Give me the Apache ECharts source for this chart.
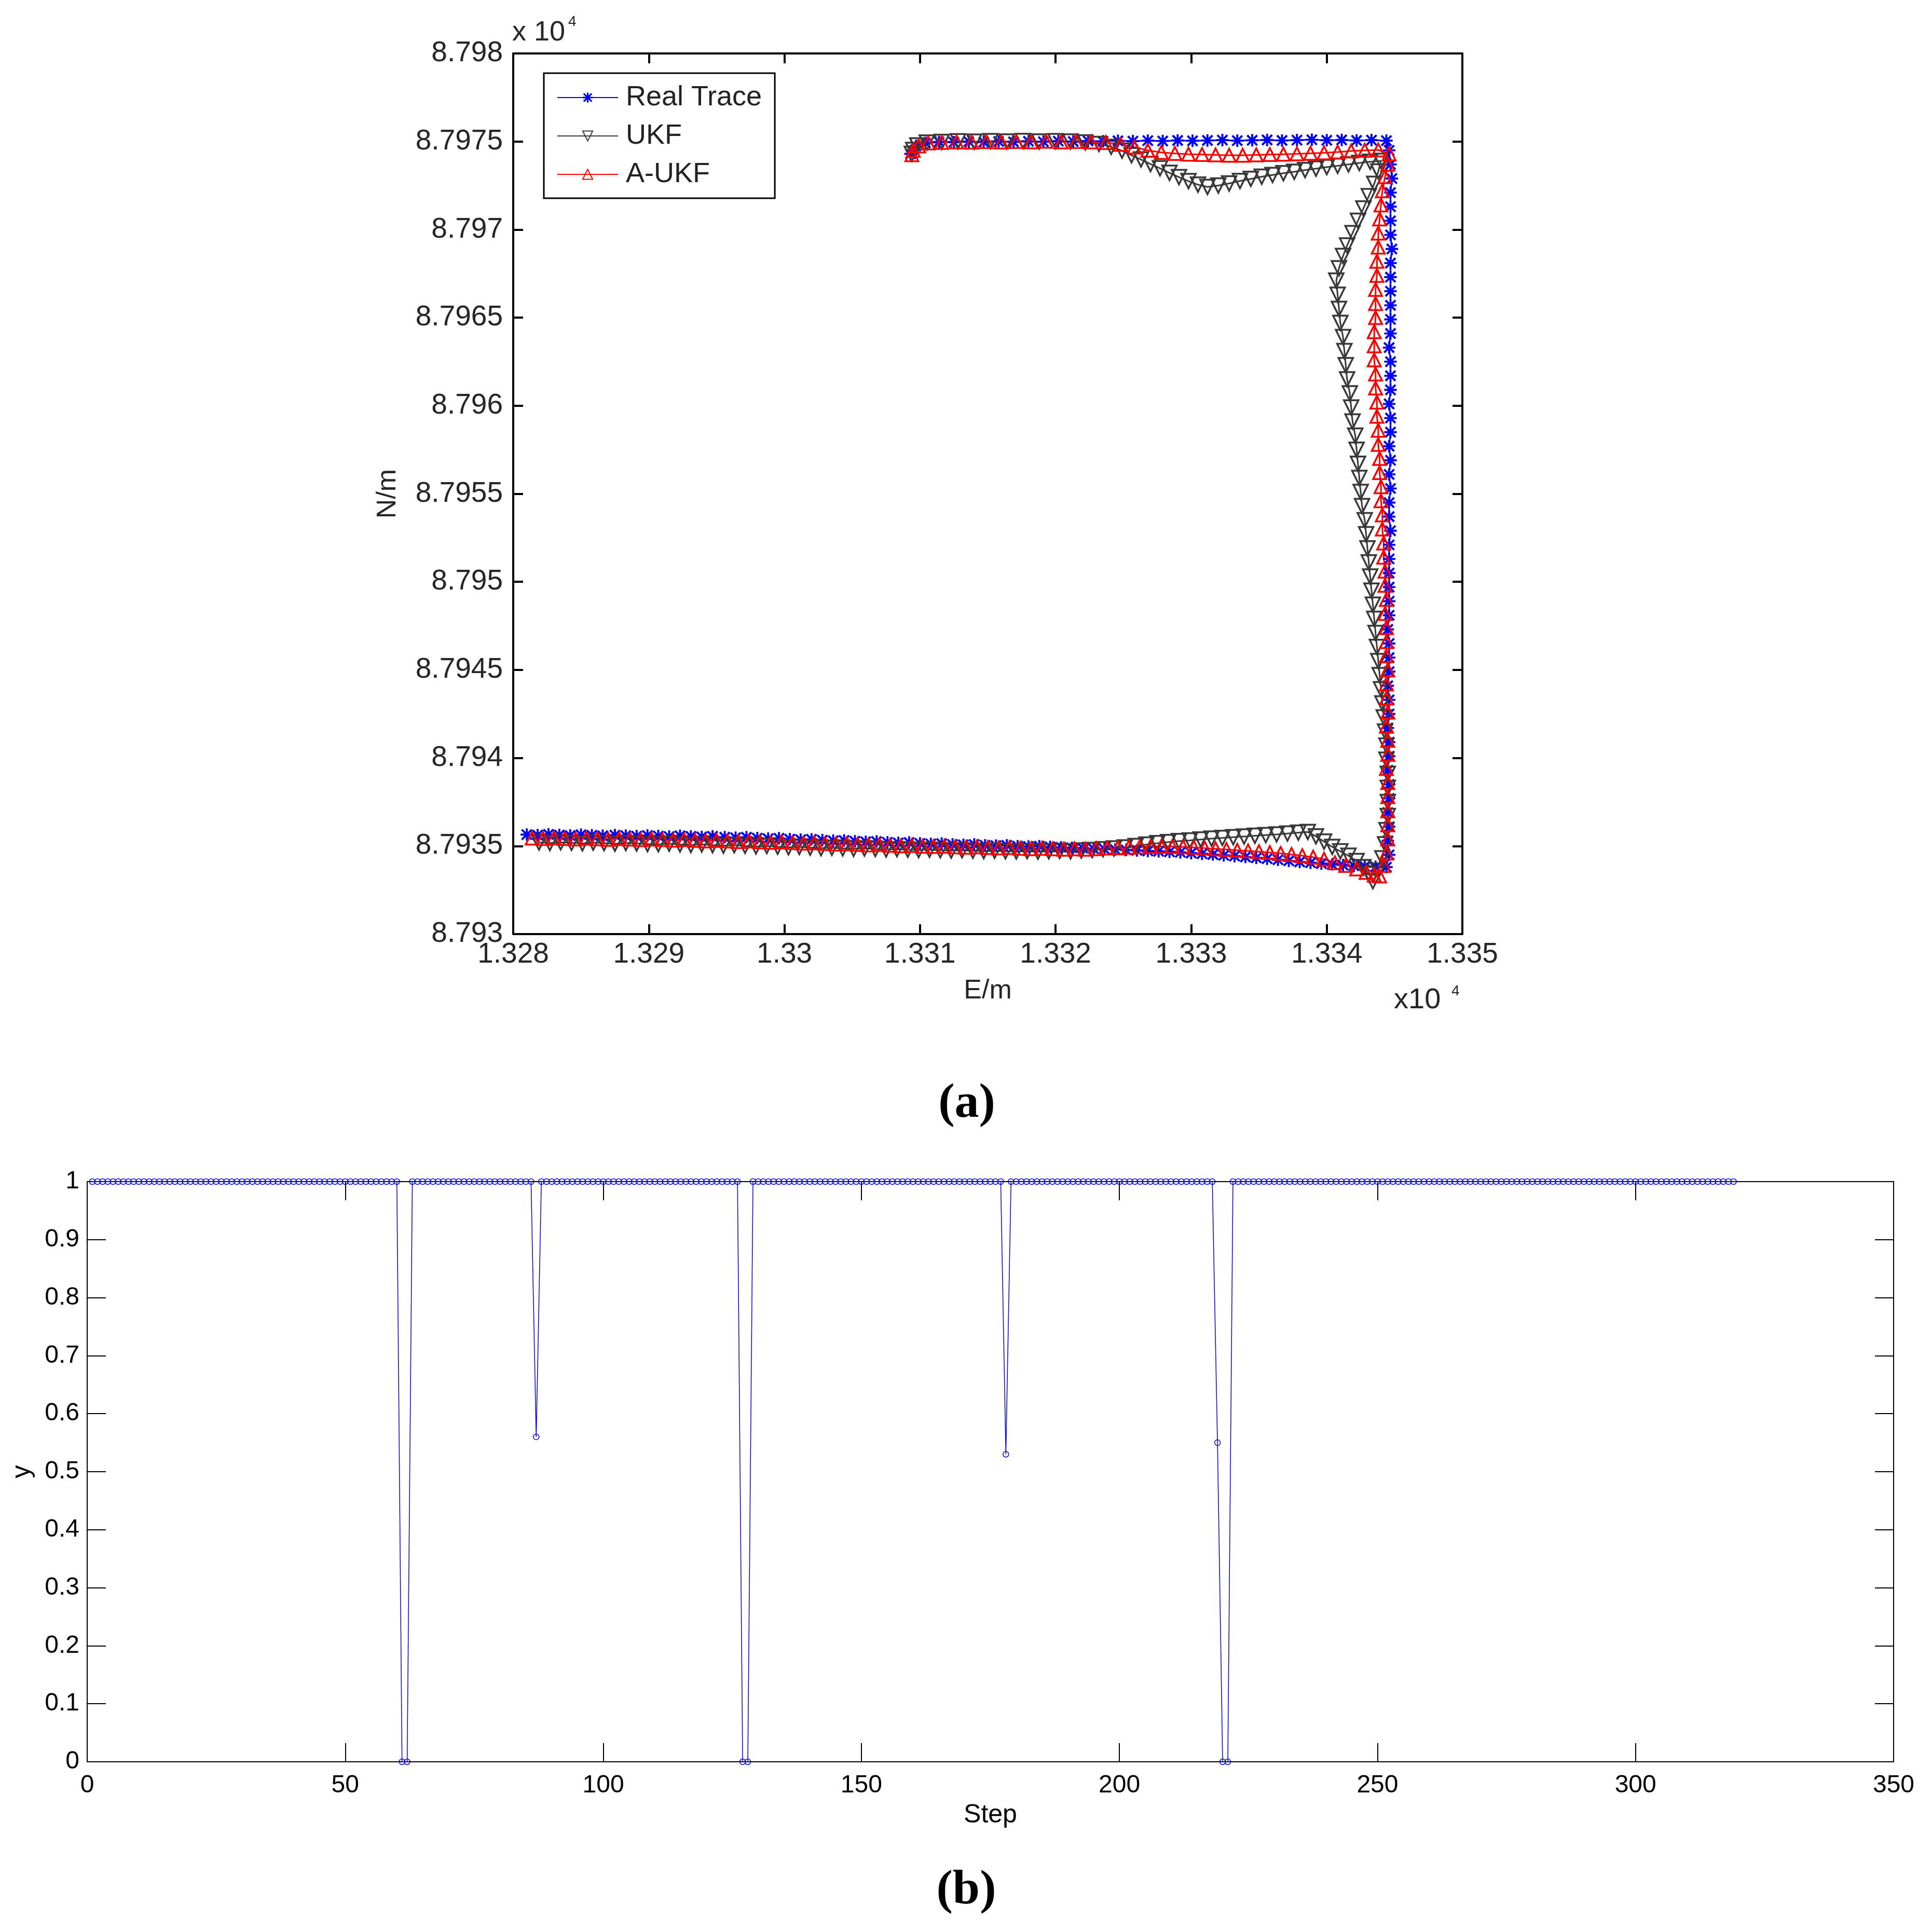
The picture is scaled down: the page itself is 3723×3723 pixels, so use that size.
<!DOCTYPE html>
<html>
<head>
<meta charset="utf-8">
<title>Trace comparison and switching factor</title>
<script src="https://cdn.jsdelivr.net/npm/echarts@6.0.0/dist/echarts.min.js"></script>
<style>
  html, body { margin: 0; padding: 0; background: #fff; }
  #chart { width: 3723px; height: 3723px; }
</style>
</head>
<body>
<div id="chart"></div>
<script>
// (a) positions in metres, [E, N]
const realTrace = [
  [13281.0, 87935.65], [13281.8, 87935.62], [13282.6, 87935.66], [13283.4, 87935.63], [13284.2, 87935.60],
  [13285.0, 87935.64], [13285.8, 87935.61], [13286.6, 87935.58], [13287.5, 87935.62], [13288.3, 87935.59],
  [13289.1, 87935.56], [13289.9, 87935.60], [13290.7, 87935.57], [13291.5, 87935.54], [13292.3, 87935.58],
  [13293.1, 87935.55], [13293.9, 87935.52], [13294.7, 87935.55], [13295.6, 87935.50], [13296.4, 87935.47],
  [13297.2, 87935.50], [13298.0, 87935.45], [13298.8, 87935.42], [13299.6, 87935.44], [13300.4, 87935.39],
  [13301.2, 87935.36], [13302.0, 87935.38], [13302.8, 87935.33], [13303.6, 87935.30], [13304.4, 87935.32],
  [13305.2, 87935.27], [13306.0, 87935.24], [13306.8, 87935.26], [13307.6, 87935.21], [13308.4, 87935.18],
  [13309.2, 87935.20], [13310.0, 87935.15], [13310.8, 87935.12], [13311.6, 87935.14], [13312.4, 87935.09],
  [13313.2, 87935.07], [13314.0, 87935.09], [13314.8, 87935.04], [13315.6, 87935.02], [13316.4, 87935.04],
  [13317.2, 87934.99], [13318.0, 87934.97], [13318.8, 87934.99], [13319.6, 87934.95], [13320.4, 87934.93],
  [13321.2, 87934.90], [13322.0, 87934.88], [13322.8, 87934.85], [13323.6, 87934.83], [13324.4, 87934.80],
  [13325.2, 87934.78], [13326.0, 87934.75], [13326.8, 87934.72], [13327.6, 87934.70], [13328.4, 87934.67],
  [13329.2, 87934.64], [13330.0, 87934.60], [13330.8, 87934.56], [13331.6, 87934.52], [13332.4, 87934.47],
  [13333.2, 87934.43], [13334.0, 87934.38], [13334.8, 87934.33], [13335.6, 87934.28], [13336.4, 87934.22],
  [13337.2, 87934.16], [13338.0, 87934.10], [13338.8, 87934.05], [13339.6, 87934.00], [13340.4, 87933.96],
  [13341.2, 87933.92], [13342.0, 87933.88], [13342.8, 87933.85], [13343.6, 87933.82], [13344.4, 87933.80],
  [13344.6, 87934.5], [13344.5, 87935.3], [13344.6, 87936.1], [13344.5, 87936.9], [13344.6, 87937.7],
  [13344.6, 87938.5], [13344.5, 87939.3], [13344.6, 87940.1], [13344.6, 87940.9], [13344.5, 87941.7],
  [13344.6, 87942.5], [13344.6, 87943.3], [13344.5, 87944.1], [13344.6, 87944.9], [13344.6, 87945.7],
  [13344.6, 87946.5], [13344.5, 87947.3], [13344.6, 87948.1], [13344.6, 87948.9], [13344.6, 87949.7],
  [13344.6, 87950.5], [13344.6, 87951.3], [13344.6, 87952.1], [13344.7, 87952.9], [13344.6, 87953.7],
  [13344.6, 87954.5], [13344.7, 87955.3], [13344.6, 87956.1], [13344.7, 87956.9], [13344.6, 87957.7],
  [13344.7, 87958.5], [13344.7, 87959.3], [13344.6, 87960.1], [13344.7, 87960.9], [13344.7, 87961.7],
  [13344.7, 87962.5], [13344.6, 87963.3], [13344.7, 87964.1], [13344.7, 87964.9], [13344.7, 87965.7],
  [13344.7, 87966.5], [13344.7, 87967.3], [13344.7, 87968.1], [13344.8, 87968.9], [13344.7, 87969.7],
  [13344.7, 87970.5], [13344.7, 87971.3], [13344.7, 87972.1], [13344.8, 87972.9], [13344.7, 87973.7],
  [13344.6, 87974.5], [13344.4, 87975.05],
  [13343.3, 87975.08], [13342.2, 87975.06], [13341.1, 87975.09], [13340.0, 87975.07], [13338.9, 87975.10],
  [13337.8, 87975.08], [13336.7, 87975.06], [13335.6, 87975.09], [13334.5, 87975.07], [13333.4, 87975.05],
  [13332.3, 87975.08], [13331.2, 87975.06], [13330.1, 87975.04], [13329.0, 87975.06], [13327.9, 87975.03],
  [13326.8, 87975.05], [13325.7, 87975.02], [13324.6, 87975.04], [13323.5, 87975.01], [13322.4, 87975.03],
  [13321.3, 87975.00], [13320.2, 87975.02], [13319.1, 87974.99], [13318.0, 87975.01], [13316.9, 87974.98],
  [13315.8, 87975.00], [13314.7, 87974.97], [13313.6, 87974.99], [13312.5, 87974.96], [13311.4, 87974.98],
  [13310.4, 87974.92], [13309.7, 87974.75], [13309.4, 87974.50], [13309.3, 87974.30]
];

const ukfTrace = [
  [13281.9, 87935.20], [13282.7, 87935.17], [13283.5, 87935.21], [13284.3, 87935.18], [13285.1, 87935.15],
  [13285.9, 87935.19], [13286.7, 87935.16], [13287.5, 87935.13], [13288.3, 87935.17], [13289.1, 87935.14],
  [13289.9, 87935.11], [13290.7, 87935.10], [13291.5, 87935.13], [13292.3, 87935.09], [13293.1, 87935.06],
  [13293.9, 87935.09], [13294.7, 87935.05], [13295.5, 87935.02], [13296.3, 87935.05], [13297.1, 87935.01],
  [13297.9, 87934.98], [13298.7, 87935.00], [13299.5, 87934.96], [13300.3, 87934.93], [13301.1, 87934.95],
  [13301.9, 87934.91], [13302.7, 87934.88], [13303.5, 87934.90], [13304.3, 87934.87], [13305.1, 87934.84],
  [13305.9, 87934.86], [13306.7, 87934.83], [13307.5, 87934.80], [13308.3, 87934.82], [13309.1, 87934.79],
  [13309.9, 87934.77], [13310.7, 87934.79], [13311.5, 87934.76], [13312.3, 87934.74], [13313.1, 87934.76],
  [13313.9, 87934.73], [13314.7, 87934.71], [13315.5, 87934.73], [13316.3, 87934.70], [13317.1, 87934.69],
  [13317.9, 87934.71], [13318.7, 87934.68], [13319.5, 87934.70], [13320.3, 87934.72], [13321.1, 87934.70],
  [13321.9, 87934.74], [13322.7, 87934.77], [13323.5, 87934.82], [13324.3, 87934.86], [13325.1, 87934.92],
  [13325.9, 87935.00], [13326.7, 87935.08], [13327.5, 87935.16], [13328.3, 87935.22], [13329.1, 87935.28],
  [13329.9, 87935.32], [13330.7, 87935.37], [13331.5, 87935.42], [13332.3, 87935.46], [13333.1, 87935.50],
  [13333.9, 87935.54], [13334.7, 87935.58], [13335.5, 87935.62], [13336.3, 87935.66], [13337.1, 87935.71],
  [13337.9, 87935.76], [13338.6, 87935.80], [13339.2, 87935.55], [13339.8, 87935.25], [13340.4, 87934.95],
  [13341.0, 87934.70], [13341.6, 87934.45], [13342.2, 87934.15], [13342.7, 87933.80], [13343.1, 87933.40],
  [13343.4, 87933.00],
  [13343.8, 87933.6], [13344.1, 87934.3], [13344.3, 87935.1], [13344.4, 87935.9], [13344.5, 87936.7],
  [13344.5, 87937.5], [13344.5, 87938.3], [13344.5, 87939.1], [13344.4, 87939.9], [13344.4, 87940.7],
  [13344.3, 87941.5], [13344.2, 87942.3], [13344.1, 87943.1], [13344.0, 87943.9], [13343.9, 87944.7],
  [13343.8, 87945.5], [13343.7, 87946.3], [13343.6, 87947.1], [13343.5, 87947.9], [13343.4, 87948.7],
  [13343.3, 87949.5], [13343.2, 87950.3], [13343.1, 87951.1], [13343.0, 87951.9], [13342.9, 87952.7],
  [13342.8, 87953.5], [13342.6, 87954.3], [13342.5, 87955.1], [13342.4, 87955.9], [13342.3, 87956.7],
  [13342.2, 87957.5], [13342.1, 87958.3], [13341.9, 87959.1], [13341.8, 87959.9], [13341.7, 87960.7],
  [13341.5, 87961.5], [13341.4, 87962.3], [13341.3, 87963.1], [13341.2, 87963.9], [13341.0, 87964.7],
  [13340.9, 87965.5], [13340.8, 87966.3], [13340.7, 87967.1], [13340.9, 87967.8], [13341.2, 87968.5],
  [13341.5, 87969.1], [13341.9, 87969.8], [13342.3, 87970.5], [13342.7, 87971.2], [13343.1, 87971.9],
  [13343.5, 87972.6], [13343.8, 87973.3], [13344.0, 87973.9],
  [13343.2, 87973.85], [13342.4, 87973.78], [13341.6, 87973.70], [13340.8, 87973.62], [13340.0, 87973.55],
  [13339.2, 87973.46], [13338.4, 87973.38], [13337.6, 87973.28], [13336.8, 87973.20], [13336.0, 87973.10],
  [13335.2, 87973.00], [13334.4, 87972.88], [13333.6, 87972.76], [13332.8, 87972.62], [13332.0, 87972.50],
  [13331.2, 87972.42], [13330.5, 87972.55], [13329.8, 87972.75], [13329.1, 87972.98], [13328.4, 87973.22],
  [13327.7, 87973.48], [13327.0, 87973.72], [13326.3, 87973.98], [13325.6, 87974.22], [13324.9, 87974.48],
  [13324.1, 87974.70], [13323.2, 87974.86], [13322.2, 87974.95], [13321.1, 87975.00], [13320.0, 87975.02],
  [13318.8, 87975.00], [13317.6, 87975.03], [13316.4, 87975.00], [13315.2, 87975.02], [13314.0, 87974.99],
  [13312.8, 87975.01], [13311.6, 87974.98], [13310.5, 87974.94], [13309.8, 87974.78], [13309.5, 87974.52],
  [13309.4, 87974.30]
];

const aukfTrace = [
  [13281.4, 87935.45], [13282.2, 87935.42], [13283.0, 87935.46], [13283.8, 87935.43], [13284.6, 87935.40],
  [13285.4, 87935.44], [13286.2, 87935.41], [13287.0, 87935.38], [13287.8, 87935.42], [13288.6, 87935.39],
  [13289.4, 87935.36], [13290.2, 87935.39], [13291.0, 87935.36], [13291.8, 87935.33], [13292.6, 87935.36],
  [13293.4, 87935.32], [13294.2, 87935.29], [13295.0, 87935.32], [13295.8, 87935.28], [13296.6, 87935.25],
  [13297.4, 87935.28], [13298.2, 87935.24], [13299.0, 87935.21], [13299.8, 87935.23], [13300.6, 87935.19],
  [13301.4, 87935.16], [13302.2, 87935.18], [13303.0, 87935.14], [13303.8, 87935.11], [13304.6, 87935.13],
  [13305.4, 87935.09], [13306.2, 87935.06], [13307.0, 87935.08], [13307.8, 87935.04], [13308.6, 87935.01],
  [13309.4, 87935.03], [13310.2, 87934.99], [13311.0, 87934.97], [13311.8, 87934.99], [13312.6, 87934.95],
  [13313.4, 87934.93], [13314.2, 87934.95], [13315.0, 87934.91], [13315.8, 87934.89], [13316.6, 87934.91],
  [13317.4, 87934.87], [13318.2, 87934.85], [13319.0, 87934.87], [13319.8, 87934.84], [13320.6, 87934.82],
  [13321.4, 87934.84], [13322.2, 87934.82], [13323.0, 87934.85], [13323.8, 87934.88], [13324.6, 87934.90],
  [13325.4, 87934.93], [13326.2, 87934.95], [13327.0, 87934.97], [13327.8, 87934.98], [13328.6, 87934.97],
  [13329.4, 87934.95], [13330.2, 87934.92], [13331.0, 87934.88], [13331.8, 87934.84], [13332.6, 87934.80],
  [13333.4, 87934.76], [13334.2, 87934.72], [13335.0, 87934.68], [13335.8, 87934.63], [13336.6, 87934.58],
  [13337.4, 87934.52], [13338.2, 87934.45], [13339.0, 87934.37], [13339.8, 87934.25], [13340.6, 87934.05],
  [13341.4, 87933.90], [13342.2, 87933.70], [13342.9, 87933.50], [13343.5, 87933.35], [13343.9, 87933.30],
  [13344.2, 87933.9], [13344.4, 87934.6], [13344.5, 87935.4], [13344.5, 87936.2], [13344.5, 87937.0],
  [13344.5, 87937.8], [13344.5, 87938.6], [13344.4, 87939.4], [13344.5, 87940.2], [13344.5, 87941.0],
  [13344.4, 87941.8], [13344.5, 87942.6], [13344.4, 87943.4], [13344.4, 87944.2], [13344.5, 87945.0],
  [13344.4, 87945.8], [13344.4, 87946.6], [13344.4, 87947.4], [13344.3, 87948.2], [13344.4, 87949.0],
  [13344.3, 87949.8], [13344.3, 87950.6], [13344.2, 87951.4], [13344.2, 87952.2], [13344.1, 87953.0],
  [13344.1, 87953.8], [13344.0, 87954.6], [13344.0, 87955.4], [13343.9, 87956.2], [13343.9, 87957.0],
  [13343.8, 87957.8], [13343.8, 87958.6], [13343.7, 87959.4], [13343.7, 87960.2], [13343.6, 87961.0],
  [13343.6, 87961.8], [13343.5, 87962.6], [13343.5, 87963.4], [13343.5, 87964.2], [13343.6, 87965.0],
  [13343.6, 87965.8], [13343.6, 87966.6], [13343.7, 87967.4], [13343.7, 87968.2], [13343.8, 87969.0],
  [13343.8, 87969.8], [13343.9, 87970.6], [13344.0, 87971.4], [13344.1, 87972.2], [13344.3, 87973.0],
  [13344.5, 87973.7], [13344.6, 87974.3],
  [13343.8, 87974.52], [13342.8, 87974.50], [13341.8, 87974.46], [13340.8, 87974.40], [13339.8, 87974.36],
  [13338.8, 87974.33], [13337.8, 87974.30], [13336.8, 87974.28], [13335.8, 87974.26], [13334.8, 87974.24],
  [13333.8, 87974.22], [13332.8, 87974.22], [13331.8, 87974.24], [13330.8, 87974.26], [13329.8, 87974.28],
  [13328.8, 87974.32], [13327.8, 87974.38], [13326.8, 87974.50], [13325.8, 87974.68], [13324.8, 87974.84],
  [13323.7, 87974.94], [13322.6, 87974.98], [13321.5, 87975.00], [13320.4, 87974.98], [13319.3, 87975.01],
  [13318.2, 87974.98], [13317.1, 87975.00], [13316.0, 87974.97], [13314.9, 87974.99], [13313.8, 87974.96],
  [13312.7, 87974.98], [13311.6, 87974.95], [13310.6, 87974.92], [13309.9, 87974.75], [13309.5, 87974.50],
  [13309.4, 87974.25]
];

// (b) switching factor per step, steps 1..319
const gammaValues = [
  1, 1, 1, 1, 1, 1, 1, 1, 1, 1,
  1, 1, 1, 1, 1, 1, 1, 1, 1, 1,
  1, 1, 1, 1, 1, 1, 1, 1, 1, 1,
  1, 1, 1, 1, 1, 1, 1, 1, 1, 1,
  1, 1, 1, 1, 1, 1, 1, 1, 1, 1,
  1, 1, 1, 1, 1, 1, 1, 1, 1, 1,
  0, 0, 1, 1, 1, 1, 1, 1, 1, 1,
  1, 1, 1, 1, 1, 1, 1, 1, 1, 1,
  1, 1, 1, 1, 1, 1, 0.56, 1, 1, 1,
  1, 1, 1, 1, 1, 1, 1, 1, 1, 1,
  1, 1, 1, 1, 1, 1, 1, 1, 1, 1,
  1, 1, 1, 1, 1, 1, 1, 1, 1, 1,
  1, 1, 1, 1, 1, 1, 0, 0, 1, 1,
  1, 1, 1, 1, 1, 1, 1, 1, 1, 1,
  1, 1, 1, 1, 1, 1, 1, 1, 1, 1,
  1, 1, 1, 1, 1, 1, 1, 1, 1, 1,
  1, 1, 1, 1, 1, 1, 1, 1, 1, 1,
  1, 1, 1, 1, 1, 1, 1, 0.53, 1, 1,
  1, 1, 1, 1, 1, 1, 1, 1, 1, 1,
  1, 1, 1, 1, 1, 1, 1, 1, 1, 1,
  1, 1, 1, 1, 1, 1, 1, 1, 1, 1,
  1, 1, 1, 1, 1, 1, 1, 1, 0.55, 0,
  0, 1, 1, 1, 1, 1, 1, 1, 1, 1,
  1, 1, 1, 1, 1, 1, 1, 1, 1, 1,
  1, 1, 1, 1, 1, 1, 1, 1, 1, 1,
  1, 1, 1, 1, 1, 1, 1, 1, 1, 1,
  1, 1, 1, 1, 1, 1, 1, 1, 1, 1,
  1, 1, 1, 1, 1, 1, 1, 1, 1, 1,
  1, 1, 1, 1, 1, 1, 1, 1, 1, 1,
  1, 1, 1, 1, 1, 1, 1, 1, 1, 1,
  1, 1, 1, 1, 1, 1, 1, 1, 1, 1,
  1, 1, 1, 1, 1, 1, 1, 1, 1
];

const seriesNames = ["Real Trace", "UKF", "A-UKF"];

const FONT = "Liberation Sans";
const STAR =
  "path://M0,4.2L10,4.2L10,5.8L0,5.8Z M4.2,0L5.8,0L5.8,10L4.2,10Z " +
  "M1.6,0.4L9.6,8.4L8.4,9.6L0.4,1.6Z M8.4,0.4L9.6,1.6L1.6,9.6L0.4,8.4Z";

const chart = echarts.init(document.getElementById("chart"), null, { renderer: "canvas" });

function scaled(v) {
  return String(parseFloat((v / 1e4).toFixed(5)));
}

function frameAxis(grid, pos, range, main, style) {
  const ax = {
    gridIndex: grid,
    type: "value",
    position: pos,
    min: range[0],
    max: range[1],
    interval: range[2],
    splitLine: { show: false },
    axisLine: { show: true, onZero: false, lineStyle: { color: "#000", width: style.line } },
    axisTick: { show: true, inside: true, length: style.tick, lineStyle: { color: "#000", width: style.line } },
    axisLabel: { show: false },
  };
  if (main) {
    ax.axisLabel = {
      show: true,
      showMinLabel: true,
      showMaxLabel: true,
      fontFamily: FONT,
      fontSize: style.font,
      color: style.color,
      margin: style.margin,
      formatter: style.formatter,
    };
    ax.name = style.name;
    ax.nameLocation = "middle";
    ax.nameGap = style.nameGap;
    ax.nameTextStyle = { fontFamily: FONT, fontSize: style.nameFont, color: style.color };
  }
  return ax;
}

const topX = [13280, 13350, 10];
const topY = [87930, 87980, 5];
const botX = [0, 350, 50];
const botY = [0, 1, 0.1];

const topStyle = { line: 4, tick: 19, font: 55, color: "#262626", formatter: scaled, nameFont: 52 };
const botStyle = { line: 2, tick: 36, font: 48, color: "#000", nameFont: 50 };

const option = {
  animation: false,
  backgroundColor: "#fff",
  grid: [
    { left: 989, top: 103, width: 1829, height: 1697, outerBoundsMode: "none" },
    { left: 168, top: 2277, width: 3481, height: 1118, outerBoundsMode: "none" },
  ],
  xAxis: [
    frameAxis(0, "bottom", topX, true, Object.assign({}, topStyle, { margin: 12, name: "E/m", nameGap: 84 })),
    frameAxis(0, "top", topX, false, topStyle),
    frameAxis(1, "bottom", botX, true, Object.assign({}, botStyle, { margin: 22, name: "Step", nameGap: 78 })),
    frameAxis(1, "top", botX, false, botStyle),
  ],
  yAxis: [
    frameAxis(0, "left", topY, true, Object.assign({}, topStyle, { margin: 20, name: "N/m", nameGap: 215 })),
    frameAxis(0, "right", topY, false, topStyle),
    frameAxis(1, "left", botY, true, Object.assign({}, botStyle, { margin: 15, name: "y", nameGap: 100 })),
    frameAxis(1, "right", botY, false, botStyle),
  ],
  legend: {
    data: seriesNames,
    orient: "vertical",
    left: 1048,
    top: 141,
    padding: [19, 25, 18, 25],
    itemWidth: 117,
    itemHeight: 24,
    itemGap: 18,
    borderColor: "#000",
    borderWidth: 3,
    backgroundColor: "#fff",
    selectedMode: false,
    textStyle: { fontFamily: FONT, fontSize: 54, lineHeight: 56, color: "#222", padding: [0, 0, 0, 10] },
  },
  graphic: [
    { type: "text", x: 987, y: 90, style: { text: "x 10", fontFamily: FONT, fontSize: 54, fill: "#262626", verticalAlign: "bottom" } },
    { type: "text", x: 1095, y: 28, style: { text: "4", fontFamily: FONT, fontSize: 28, fill: "#262626", verticalAlign: "top" } },
    { type: "text", x: 2686, y: 1956, style: { text: "x10", fontFamily: FONT, fontSize: 56, fill: "#262626", verticalAlign: "bottom" } },
    { type: "text", x: 2797, y: 1896, style: { text: "4", fontFamily: FONT, fontSize: 28, fill: "#262626", verticalAlign: "top" } },
    { type: "text", x: 1863, y: 2128, style: { text: "(a)", fontFamily: "Liberation Serif", fontWeight: "bold", fontSize: 94, fill: "#000", align: "center", verticalAlign: "middle" } },
    { type: "text", x: 1862, y: 3644, style: { text: "(b)", fontFamily: "Liberation Serif", fontWeight: "bold", fontSize: 94, fill: "#000", align: "center", verticalAlign: "middle" } },
  ],
  series: [
    {
      name: seriesNames[0],
      type: "line",
      xAxisIndex: 0,
      yAxisIndex: 0,
      data: realTrace,
      symbol: STAR,
      symbolSize: 24,
      itemStyle: { color: "#0000ff" },
      lineStyle: { color: "#0000ff", width: 3 },
    },
    {
      name: seriesNames[1],
      type: "line",
      xAxisIndex: 0,
      yAxisIndex: 0,
      data: ukfTrace,
      symbol: "triangle",
      symbolRotate: 180,
      symbolSize: 28,
      itemStyle: { color: "rgba(255,255,255,0)", borderColor: "#383838", borderWidth: 3.5 },
      lineStyle: { color: "#383838", width: 3 },
    },
    {
      name: seriesNames[2],
      type: "line",
      xAxisIndex: 0,
      yAxisIndex: 0,
      data: aukfTrace,
      symbol: "triangle",
      symbolSize: 25,
      itemStyle: { color: "rgba(255,255,255,0)", borderColor: "#ff0000", borderWidth: 3.5 },
      lineStyle: { color: "#ff0000", width: 3 },
    },
    {
      name: "gamma",
      type: "line",
      xAxisIndex: 2,
      yAxisIndex: 2,
      data: gammaValues.map((v, i) => [i + 1, v]),
      symbol: "circle",
      symbolSize: 11,
      itemStyle: { color: "rgba(255,255,255,0)", borderColor: "#0000ff", borderWidth: 1.5 },
      lineStyle: { color: "#0000ff", width: 1.5 },
    },
  ],
};

chart.setOption(option);
</script>
</body>
</html>
